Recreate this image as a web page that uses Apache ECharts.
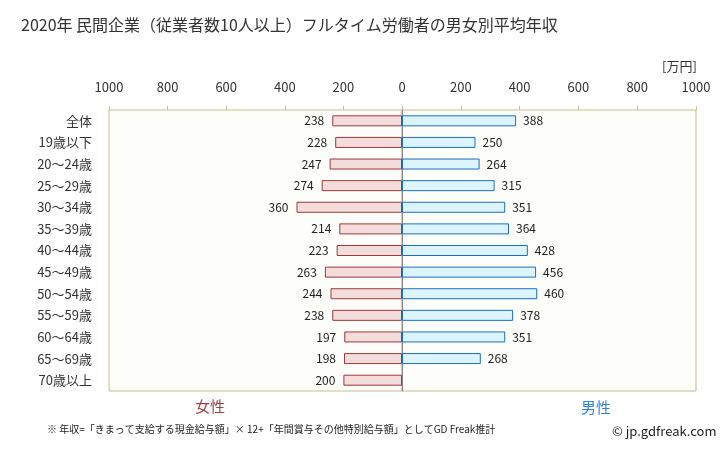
<!DOCTYPE html>
<html><head><meta charset="utf-8">
<script src="https://cdn.jsdelivr.net/npm/echarts@6/dist/echarts.min.js"></script>
<style>html,body{margin:0;padding:0;background:#fff}#c{width:728px;height:451px}</style>
</head><body><div id="c"></div>
<script>
const categories = ['全体','19歳以下','20～24歳','25～29歳','30～34歳','35～39歳','40～44歳','45～49歳','50～54歳','55～59歳','60～64歳','65～69歳','70歳以上'];
const female = [238,228,247,274,360,214,223,263,244,238,197,198,200];
const male = [388,250,264,315,351,364,428,456,460,378,351,268,null];
const ticks = [0,200,400,600,800,1000];

const FONT = '"Noto Sans CJK JP", "Noto Sans", sans-serif';
const chart = echarts.init(document.getElementById('c'), null, {renderer:'canvas'});
const gridStyle = {show:true, backgroundColor:'#fdfdf9', borderColor:'#c8bc90', borderWidth:1};
const xCommon = {
  type:'value', min:ticks[0], max:ticks[ticks.length-1], interval:ticks[1]-ticks[0], position:'top',
  axisLine:{show:false}, splitLine:{show:false},
  axisTick:{show:true, inside:false, length:4, lineStyle:{color:'#c8bc90'}},
  axisLabel:{color:'#333', fontSize:13, fontFamily:FONT, margin:16, formatter:v => String(v)}
};
chart.setOption({
  animation:false,
  textStyle:{fontFamily:FONT},
  title:[
    {text:'2020年 民間企業（従業者数10人以上）フルタイム労働者の男女別平均年収', left:16, top:12, textStyle:{fontSize:16, fontWeight:'normal', color:'#333', fontFamily:FONT}},
  ],
  graphic:[
    {type:'text', left:662, top:60, style:{text:'[万円]', fontSize:13, fill:'#333', fontFamily:FONT}},
    {type:'text', left:195, top:399, style:{text:'女性', fontSize:15, fill:'#a04040', fontFamily:FONT}},
    {type:'text', left:581, top:400, style:{text:'男性', fontSize:15, fill:'#3088d8', fontFamily:FONT}},
    {type:'text', left:47, top:424, style:{text:'※ 年収=「きまって支給する現金給与額」× 12+「年間賞与その他特別給与額」としてGD Freak推計', fontSize:10, fill:'#222', fontFamily:FONT}},
    {type:'text', left:612, top:425, style:{text:'© jp.gdfreak.com', fontSize:13, fill:'#222', fontFamily:FONT}}
  ],
  grid:[
    Object.assign({left:109, width:293, top:110, height:281}, gridStyle),
    Object.assign({left:402, width:294, top:110, height:281}, gridStyle)
  ],
  xAxis:[
    Object.assign({}, xCommon, {gridIndex:0, inverse:true,
      axisLabel:Object.assign({}, xCommon.axisLabel, {formatter:v => v===0 ? '' : String(v)})}),
    Object.assign({}, xCommon, {gridIndex:1})
  ],
  yAxis:[
    {type:'category', gridIndex:0, data:categories, inverse:true, position:'left',
     axisLine:{show:false}, axisTick:{show:false},
     axisLabel:{color:'#333', fontSize:13, fontFamily:FONT, margin:17}},
    {type:'category', gridIndex:1, data:categories, inverse:true, position:'left',
     axisLine:{show:true, lineStyle:{color:'#888', width:1}}, axisTick:{show:false},
     axisLabel:{show:false}}
  ],
  series:[
    {type:'bar', xAxisIndex:0, yAxisIndex:0, data:female, barWidth:11,
     itemStyle:{color:'#f2dcdc', borderColor:'#a03838', borderWidth:1},
     label:{show:true, position:'left', distance:8, color:'#222', fontSize:12, fontFamily:FONT}},
    {type:'bar', xAxisIndex:1, yAxisIndex:1, data:male, barWidth:11,
     itemStyle:{color:'#dcf4fe', borderColor:'#1a70c0', borderWidth:1},
     label:{show:true, position:'right', distance:7, color:'#222', fontSize:12, fontFamily:FONT}}
  ]
});
</script></body></html>
